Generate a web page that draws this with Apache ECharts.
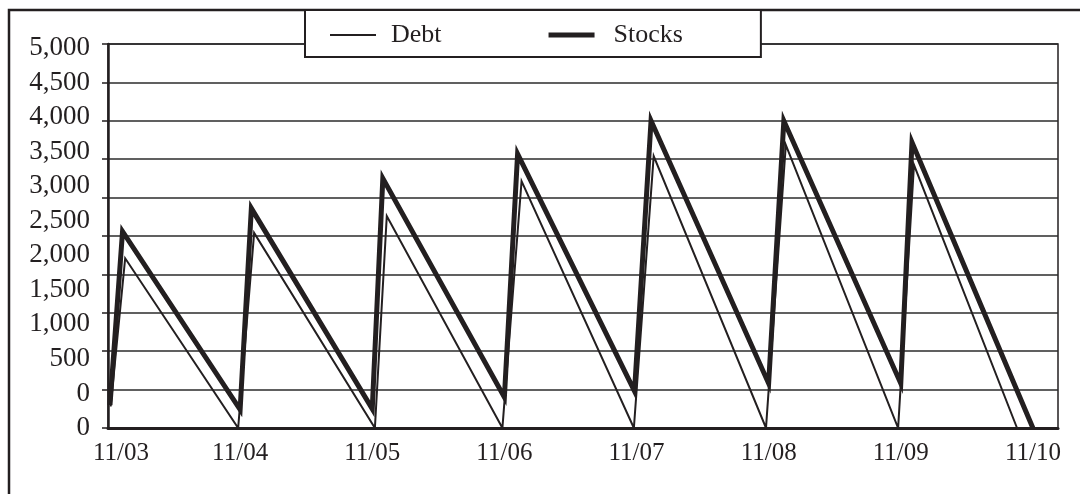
<!DOCTYPE html>
<html><head><meta charset="utf-8">
<script src="https://cdn.jsdelivr.net/npm/echarts@6/dist/echarts.min.js"></script>
<style>html,body{margin:0;padding:0;background:#fff}#c{width:1080px;height:494px}</style>
</head><body><div id="c"></div>
<script>
// x tick labels (one per day) and y tick labels as printed on the chart
const dateLabels = ['11/03','11/04','11/05','11/06','11/07','11/08','11/09','11/10'];
const yTickLabels = ['0','0','500','1,000','1,500','2,000','2,500','3,000','3,500','4,000','4,500','5,000'];

// Debt: day offset from 11/03, value
const debtDays   = [0.02, 0.13, 0.985, 1.106, 2.02, 2.11, 2.985, 3.13, 3.98, 4.13, 4.98, 5.13, 5.98, 6.10, 6.88];
const debtValues = [280, 2210, 0, 2540, 0, 2760, 0, 3215, 0, 3540, 0, 3685, 0, 3425, 0];

// Stocks: day offset from 11/03, value
const stocksDays   = [0.015, 0.11, 1.0, 1.085, 2.0, 2.08, 3.0, 3.10, 3.985, 4.11, 5.0, 5.115, 6.0, 6.085, 7.0];
const stocksValues = [300, 2560, 240, 2860, 250, 3250, 400, 3570, 480, 4000, 580, 4000, 580, 3720, 0];

const ink = '#231f20';
const font = 'Liberation Serif';
const zip = (xs, ys) => xs.map((x, i) => [x, ys[i]]);

function xFmt(v) {
  const i = Math.round(v);
  if (Math.abs(v - i) > 1e-6 || dateLabels[i] === undefined) return '';
  return i === 0 ? '{first|' + dateLabels[i] + '}' : dateLabels[i];
}
function yFmt(v) {
  const i = Math.round(v);
  if (Math.abs(v - i) > 1e-6 || yTickLabels[i] === undefined) return '';
  return yTickLabels[i];
}

const chart = echarts.init(document.getElementById('c'), null, {renderer: 'canvas'});
chart.setOption({
  animation: false,
  backgroundColor: '#fff',
  grid: {left: 108, right: 22, top: 44, bottom: 66, show: true, borderColor: ink, borderWidth: 1.5,
         backgroundColor: 'transparent', outerBoundsMode: 'none'},
  xAxis: {
    type: 'value', min: 0, max: 7.19, interval: 1,
    axisLine: {show: true, onZero: false, lineStyle: {color: ink, width: 3}},
    axisTick: {show: false}, splitLine: {show: false},
    axisLabel: {color: ink, fontFamily: font, fontSize: 25, margin: 13, formatter: xFmt,
      showMinLabel: true, showMaxLabel: true,
      rich: {first: {color: ink, fontFamily: font, fontSize: 25, padding: [0, 0, 0, 26]}}}
  },
  yAxis: [
    {type: 'value', min: 0, max: 5000, interval: 500,
     axisLine: {show: true, lineStyle: {color: ink, width: 2.5}},
     axisTick: {show: true, length: 6, lineStyle: {color: ink, width: 1.5}},
     splitLine: {show: true, lineStyle: {color: '#2b2b2b', width: 1.5}},
     axisLabel: {show: false}},
    {type: 'value', position: 'left', min: 0, max: 11.12, interval: 1,
     axisLine: {show: false}, axisTick: {show: false}, splitLine: {show: false},
     axisLabel: {margin: 18, color: ink, fontFamily: font, fontSize: 27, formatter: yFmt,
       showMinLabel: true, showMaxLabel: true}}
  ],
  legend: {
    left: 305, top: 10, orient: 'horizontal',
    padding: [12, 78, 9, 25],
    itemWidth: 46, itemHeight: 14, itemGap: 107,
    backgroundColor: '#fff', borderColor: ink, borderWidth: 2, borderRadius: 0,
    selectedMode: false,
    textStyle: {fontFamily: font, fontSize: 26, color: ink, padding: [0, 0, 0, 10]},
    data: [
      {name: 'Debt', icon: 'path://M0,0H46V2H0Z', itemStyle: {color: ink, borderWidth: 0}},
      {name: 'Stocks', icon: 'path://M0,0H46V5H0Z', itemStyle: {color: ink, borderWidth: 0},
       textStyle: {fontFamily: font, fontSize: 26, color: ink, padding: [0, 0, 0, 14]}}
    ]
  },
  graphic: [{type: 'rect', z: -10, silent: true,
    shape: {x: 9, y: 10, width: 1300, height: 700},
    style: {fill: 'none', stroke: ink, lineWidth: 2.5}}],
  series: [
    {name: 'Debt', type: 'line', data: zip(debtDays, debtValues), symbol: 'none', z: 3,
     lineStyle: {color: ink, width: 2, join: 'miter', miterLimit: 30}, itemStyle: {color: ink}},
    {name: 'Stocks', type: 'line', data: zip(stocksDays, stocksValues), symbol: 'none', z: 2,
     lineStyle: {color: ink, width: 5, join: 'miter', miterLimit: 30}, itemStyle: {color: ink}}
  ]
});
</script>
</body></html>
